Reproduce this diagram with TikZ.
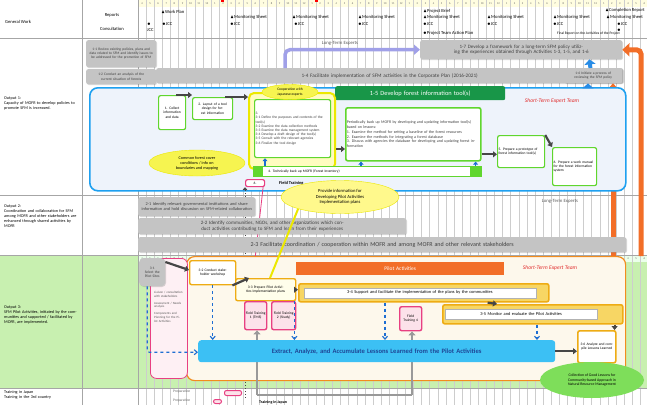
\documentclass[tikz,border=0pt]{standalone}
\usepackage{amssymb}
\usepackage{fontspec}
\setmainfont{Carlito}
\usetikzlibrary{positioning, arrows.meta, shapes, shadows, calc}

\definecolor{boxgray}{RGB}{196,196,196}
\definecolor{gridgray}{RGB}{205,205,205}
\definecolor{grnline}{RGB}{96,214,46}
\definecolor{grnhead}{RGB}{24,150,72}
\definecolor{ylwline}{RGB}{236,232,0}
\definecolor{ylwfill}{RGB}{246,244,80}
\definecolor{blueframe}{RGB}{30,160,240}
\definecolor{bluepale}{RGB}{238,243,251}
\definecolor{bluearr}{RGB}{30,110,210}
\definecolor{blueblk}{RGB}{40,140,230}
\definecolor{purparr}{RGB}{160,160,232}
\definecolor{orng}{RGB}{242,110,40}
\definecolor{orngframe}{RGB}{242,140,30}
\definecolor{cream}{RGB}{253,248,236}
\definecolor{goldline}{RGB}{238,172,20}
\definecolor{goldfill}{RGB}{247,214,100}
\definecolor{pinkline}{RGB}{232,64,130}
\definecolor{pinkfill}{RGB}{252,226,234}
\definecolor{cyanbox}{RGB}{60,192,244}
\definecolor{navytxt}{RGB}{30,70,150}
\definecolor{lightgreen}{RGB}{200,240,176}
\definecolor{lessongreen}{RGB}{126,222,90}
\definecolor{arrgray}{RGB}{70,70,70}
\definecolor{redtxt}{RGB}{225,45,45}

\begin{document}
\begin{tikzpicture}[x=1pt, y=-1pt,
  every node/.style={inner sep=1pt, align=center, font=\fontsize{3.6}{4.2}\selectfont},
  wh/.style 2 args={text width=#1, minimum height=#2},
  rowlbl/.style={anchor=north west, align=left, text width=74pt, font=\fontsize{4.2}{5}\selectfont},
  graybox/.style={rectangle, rounded corners=2pt, fill=boxgray, anchor=north west, text=black!75,
    drop shadow={opacity=0.3, shadow xshift=0.8pt, shadow yshift=-0.8pt}},
  gbox/.style={rectangle, rounded corners=2pt, draw=grnline, line width=1.2pt, fill=white, anchor=north west},
  goldbox/.style={rectangle, rounded corners=2pt, draw=goldline, line width=1.4pt, fill=white, anchor=north west},
  pinkbox/.style={rectangle, rounded corners=2pt, draw=pinkline, line width=1pt, fill=pinkfill, anchor=north west},
  bubble/.style={ellipse, fill=ylwfill, draw=ylwline, inner sep=0pt},
  mstone/.style={anchor=west, font=\fontsize{4.6}{5}\selectfont},
  darrow/.style={-{Triangle[length=4pt,width=6pt]}, line width=2.2pt, draw=arrgray},
  bluedash/.style={-{Straight Barb[length=3pt,width=5pt]}, dashed, line width=1.1pt, draw=bluearr},
  blockup/.style={-{Triangle[length=5pt,width=11pt]}, line width=4pt, draw=blueblk},
  orangearr/.style={-{Triangle[length=7pt,width=13pt]}, line width=5pt, draw=orng, rounded corners=4pt},
  grayarr/.style={-{Triangle[length=4pt,width=7pt]}, line width=2.2pt, draw=gray!80}
  ]
  \useasboundingbox (0,0) rectangle (647,405);
  \fill[white] (0,0) rectangle (647,405);

  % Background rows and grid
  \fill[lightgreen] (0,255) rectangle (647,388);
  \fill[yellow!12] (138,0) rectangle (647,7);
  \fill[green!8] (138,255) rectangle (647,262);
  \foreach \i in {0,...,62} {
    \draw[gridgray, line width=0.4pt] ({138+\i*8.1},0) -- ({138+\i*8.1},405);
    \pgfmathtruncatemacro\mon{mod(\i+3,12)+1}
    \node[font=\fontsize{2.8}{3}\selectfont, text=black!60] at ({142+\i*8.1},4) {\mon};
    \node[font=\fontsize{2.8}{3}\selectfont, text=black!60] at ({142+\i*8.1},258.5) {\mon};
  }
  \foreach \yy in {38,195,255,388}
    \draw[gray!70, line width=0.6pt] (0,\yy) -- (647,\yy);
  \draw[gray!70, line width=0.6pt] (82,0) -- (82,405);
  \draw[gray!70, line width=0.6pt] (138,0) -- (138,405);
  \fill[red] (221,0) rectangle (224,2);
  \fill[red] (315,0) rectangle (318,2);

  % Row labels
  \node[anchor=west, font=\fontsize{4.6}{5}\selectfont] (genlbl) at (4,22) {General Work};
  \node[font=\fontsize{4.6}{5}\selectfont] (reports) at (112,15) {Reports};
  \node[font=\fontsize{4.6}{5}\selectfont] (consult) at (112,29) {Consultation};
  \node[rowlbl] (out1lbl) at (3,96) {Output 1:\\Capacity of MOFR to develop policies to promote SFM is increased.};
  \node[rowlbl] (out2lbl) at (3,204) {Output 2:\\Coordination and collaboration for SFM among MOFR and other stakeholders are enhanced through shared activities by MOFR};
  \node[rowlbl] (out3lbl) at (3,305) {Output 3:\\SFM Pilot Activities, initiated by the communities and supported / facilitated by MOFR, are implemented.};
  \node[rowlbl] (trnlbl) at (3,389) {Training in Japan\\Training in the 3rd country};

  % Milestones
  \node[mstone] (wp) at (160,12) {$\blacktriangle$Work Plan};
  \foreach \xx in {229,291,357,422,486,552,605}
    \node[mstone] at (\xx,17) {$\blacktriangle$Monitoring Sheet};
  \node[mstone] (pb) at (422,11) {$\blacktriangle$Project Brief};
  \node[mstone] (cr) at (604,10) {$\blacktriangle$Completion Report};
  \node[mstone] (jcc0) at (146,24) {$\bullet$};
  \node[mstone] at (146,30) {JCC};
  \foreach \xx in {161,229,293,357,422,486,552,616}
    \node[mstone] at (\xx,24) {$\bullet$JCC};
  \node[mstone] (ptap) at (422,33) {$\bullet$Project Team Action Plan};
  \node[mstone] at (616,30) {$\bullet$};
  \node[mstone, font=\fontsize{3.6}{4}\selectfont] (fr) at (556,34) {Final Report on the Activities of the Project};

  % Output 1 -- policy boxes
  \node[graybox, wh={68pt}{27pt}] (a11) at (86,40) {1-1 Review existing policies, plans and data related to SFM and identify issues to be addressed for the promotion of SFM};
  \node[graybox, wh={68pt}{15pt}] (a12) at (86,69) {1-2 Conduct an analysis of the current situation of forests};
  \node[graybox, wh={465pt}{15pt}, font=\fontsize{5.2}{6}\selectfont] (a14) at (156,68) {1-4 Facilitate implementation of SFM activities in the Corporate Plan (2016-2021)};
  \node[graybox, wh={56pt}{15pt}] (a16) at (564,68) {1-6 Initiate a process of reviewing the SFM policy};
  \node[graybox, wh={200pt}{19pt}, font=\fontsize{5}{5.8}\selectfont] (a17) at (420,40) {1-7 Develop a framework for a long-term SFM policy utilizing the experiences obtained through Activities 1-3, 1-5, and 1-6};
  \draw[purparr, line width=3.5pt, rounded corners=5pt, -{Triangle[length=6pt,width=10pt]}] ([xshift=129pt]a14.north west) |- (a17.west);
  \node[font=\fontsize{4.8}{5}\selectfont, text=black!65] (lte1) at (340,43) {Long-Term Experts};
  \draw[blockup] ([xshift=-33pt]a14.north east) -- ([xshift=-33pt]a17.south east);

  % Orange feedback arrows
  \draw[orangearr] (613,256) -- (a16.south -| 613,0);
  \draw[orangearr] (641,256) -- (641,50) -- (a17.east);

  % Output 1 frame
  \node[draw=blueframe, line width=1.6pt, fill=bluepale, rounded corners=8pt, minimum width=536pt, minimum height=103pt, anchor=north west] (o1frame) at (89,87) {};
  \draw[blockup] ([xshift=499pt]o1frame.north west) -- (a16.south -| 588,0);
  \node[text=redtxt, font=\itshape\fontsize{5.6}{6}\selectfont] (ste1) at (552,101) {Short-Term Expert Team};
  \node[fill=grnhead, text=white, rounded corners=2pt, wh={168pt}{14pt}, font=\fontsize{6.4}{7}\selectfont, anchor=north west] (t15) at (335,86) {1-5 Develop forest information tool(s)};

  % Forest information tool steps
  \node[gbox, wh={25pt}{34pt}] (b1) at (158,95) {1. Collect information and data};
  \node[gbox, wh={38pt}{22pt}] (b2) at (192,97) {2. Layout of a tool design for forest information};
  \node[draw=ylwline, line width=2pt, fill=yellow!25, rounded corners=5pt, minimum width=86pt, minimum height=76pt, anchor=north west] (yfr) at (248,92) {};
  \node[gbox, wh={74pt}{58pt}, align=left, text=black!75] (b3) at (254,99) {3.\\3-1 Define the purposes and contents of the tool(s)\\3-2 Examine the data collection methods\\3-3 Examine the data management system\\3-4 Develop a draft design of the tool(s)\\3-5 Consult with the relevant agencies\\3-6 Finalize the tool design};
  \node[bubble, minimum width=56pt, minimum height=15pt] (coop) at (290,92) {Cooperation with\\Japanese experts};
  \node[gbox, wh={226pt}{10pt}, align=left, line width=0.8pt] (b4) at (253,166) {\hspace{14pt}4. Technically back up MOFR (Forest Inventory)};
  \fill[grnline] (b4.north west) rectangle ([xshift=10pt]b4.south west);
  \fill[grnline] ([xshift=-12pt]b4.north east) rectangle (b4.south east);
  \node[gbox, wh={133pt}{53pt}, align=left, line width=1.6pt, text=black!75, font=\fontsize{4}{4.8}\selectfont] (b5) at (345,107) {Periodically back up MOFR by developing and updating information tool(s) based on lessons:\\1. Examine the method for setting a baseline of the forest resources\\2. Examine the methods for integrating a forest database\\3. Discuss with agencies the database for developing and updating forest information};
  \node[gbox, wh={45pt}{32pt}, align=left] (b6) at (497,135) {5. Prepare a prototype of forest information tool(s)};
  \node[gbox, wh={42pt}{38pt}, align=left] (b7) at (552,147) {6. Prepare a work manual for the forest information system};
  \draw[darrow] ([xshift=-10pt]b1.north east) -- (b1.north east -| b2.west);
  \draw[darrow] ([xshift=-8pt]b2.north east) -- (b2.north east -| yfr.west);
  \draw[darrow] ([yshift=-18pt]yfr.east) -- ([yshift=-18pt]yfr.east -| b5.west);
  \draw[darrow] ([yshift=-20pt]b5.east) -- ([yshift=-20pt]b5.east -| b6.west);
  \draw[darrow] (b6.north east) -- (b7.north west);
  \draw[bluedash, solid, -{Triangle[length=3pt,width=5pt]}] ([xshift=12pt]b4.north west) -- ([xshift=11pt]b3.south west);
  \draw[bluedash, solid, -{Triangle[length=3pt,width=5pt]}] ([xshift=16pt]b5.south west |- b4.north) -- ([xshift=16pt]b5.south west);
  \draw[bluedash, solid, -{Triangle[length=3pt,width=5pt]}] ([xshift=-6pt]b5.south east |- b4.north) -- ([xshift=-6pt]b5.south east);
  \node[bubble, minimum width=96pt, minimum height=26pt, font=\fontsize{4.2}{5}\selectfont] (common) at (197,163) {Common forest cover\\conditions / info on\\boundaries and mapping};

  % Field training link
  \node[pinkbox, fill=white, line width=1.2pt, wh={17pt}{7pt}] (p6) at (245,179) {6.};
  \node[anchor=west, font=\bfseries\fontsize{4.4}{5}\selectfont] (ftlbl) at (278,183) {Field Training};
  \draw[pinkline, line width=0.8pt] ([xshift=8pt]p6.south) -- (253,277);
  \coordinate (trn) at (245,399);
  \draw[arrgray, line width=1pt, dotted, {Triangle[length=3pt,width=5pt]}-] (p6.south west -| 245,0) -- (trn);
  \node[bubble, fill=yellow!45, minimum width=118pt, minimum height=33pt, font=\fontsize{4.6}{5.4}\selectfont] (prov) at (340,197) {Provide information for\\Developing Pilot Activities\\Implementation plans};

  % Output 2
  \node[graybox, wh={115pt}{19pt}, font=\fontsize{4.3}{5}\selectfont] (a21) at (138,197) {2-1 Identify relevant governmental institutions and share information and hold discussion on SFM-related collaboration};
  \node[graybox, wh={266pt}{16pt}, font=\fontsize{5}{5.8}\selectfont] (a22) at (138,218) {2-2 Identify communities, NGOs, and other organizations which conduct activities contributing to SFM and learn from their experiences};
  \node[graybox, wh={486pt}{15pt}, font=\fontsize{6}{7}\selectfont] (a23) at (138,237) {2-3 Facilitate coordination / cooperation within MOFR and among MOFR and other relevant stakeholders};
  \node[font=\fontsize{4.8}{5}\selectfont, text=black!65] (lte2) at (560,201) {Long-Term Experts};

  % Output 3 frames
  \node[draw=orngframe, line width=1.2pt, fill=cream, rounded corners=8pt, minimum width=439pt, minimum height=124pt, anchor=north west] (o3frame) at (186,256) {};
  \node[draw=pinkline, line width=0.8pt, fill=pinkfill!50, rounded corners=6pt, minimum width=37pt, minimum height=120pt, anchor=north west] (pfr) at (150,258) {};
  \node[anchor=north west, align=left, text width=30pt, font=\fontsize{3.2}{3.8}\selectfont, text=black!65] (liaise) at (153,290) {Liaison / consultation with stakeholders\\[3pt]Assessment / Needs analysis\\[3pt]Components and Planning for the Pilot Activities};
  \draw[ylwline, line width=2pt] (prov.south west) -- (270,278);

  % Pilot activity steps
  \node[graybox, wh={24pt}{28pt}, rounded corners=4pt] (c31) at (139,258) {3-1\\Select the Pilot Sites};
  \node[goldbox, wh={44pt}{24pt}] (c32) at (189,260) {3-2 Conduct stakeholder workshop};
  \node[goldbox, fill=yellow!8, wh={58pt}{22pt}] (c33) at (235,278) {3-3 Prepare Pilot Activities Implementation plans};
  \node[fill=orng, text=white, wh={206pt}{13pt}, font=\fontsize{5.4}{6}\selectfont, anchor=north west] (pilot) at (296,262) {Pilot Activities};
  \node[text=redtxt, font=\itshape\fontsize{5.6}{6}\selectfont] (ste2) at (550,268) {Short-Term Expert Team};
  \node[goldbox, fill=goldfill, wh={248pt}{18pt}, line width=1.6pt] (c34) at (298,283) {};
  \node[fill=white, draw=gray!60, line width=0.4pt, wh={230pt}{10pt}, font=\fontsize{4.4}{5}\selectfont] (c34t) at ($(c34.center)+(-4,0)$) {3-4 Support and facilitate the implementation of the plans by the communities};
  \node[goldbox, fill=goldfill, wh={178pt}{19pt}, line width=1.6pt] (c35) at (442,304) {};
  \node[fill=white, draw=gray!60, line width=0.4pt, wh={150pt}{10pt}, font=\fontsize{4.4}{5}\selectfont] (c35t) at ($(c35.west)+(79,0)$) {3-5 Monitor and evaluate the Pilot Activities};
  \node[pinkbox, line width=1.4pt, wh={20pt}{28pt}] (ft1) at (244,301) {Field Training 1 (TMS)};
  \node[pinkbox, line width=1.4pt, wh={22pt}{28pt}] (ft2) at (271,301) {Field Training 2 (Study)};
  \node[pinkbox, line width=1.4pt, wh={20pt}{24pt}] (ft4) at (399,306) {Field Training 4};

  % Lessons learned
  \draw[gray!80, line width=2.2pt] (412,395) -- (257,395);
  \draw[grayarr] (257,395) -- (ft1.south -| 257,0);
  \draw[grayarr] (412,395) -- (ft4.south -| 412,0);
  \node[fill=cyanbox, text=navytxt, rounded corners=3pt, wh={355pt}{22pt}, font=\bfseries\fontsize{6.6}{7}\selectfont, anchor=north west] (ext) at (198,340) {Extract, Analyze, and Accumulate Lessons Learned from the Pilot Activities};
  \node[goldbox, wh={36pt}{32pt}, line width=1.6pt] (c36) at (577,330) {3-6 Analyze and compile Lessons Learned};
  \node[ellipse, fill=lessongreen, minimum width=104pt, minimum height=36pt, inner sep=0pt, font=\fontsize{3.8}{4.5}\selectfont] (lessons) at (592,380) {Collection of Good Lessons for\\Community-based Approach in\\Natural Resource Management};

  % Connectors within Output 3
  \draw[darrow] ([yshift=-4pt]c31.north east) -- ([yshift=-10pt]c32.north west);
  \draw[darrow] ([xshift=-4pt]c32.south east) -- ([xshift=14pt]c33.north west);
  \draw[darrow] (c33.east) -- (c33.east -| c34.west);
  \draw[darrow] ([xshift=-62pt]c34.south east) -- ([xshift=55pt]c35.north west);
  \draw[darrow] ([xshift=-9pt]c35.south east) -- ([xshift=-9pt]c35.south east |- c36.north);
  \draw[darrow] (ext.east) -- (ext.east -| c36.west);
  \draw[bluedash] (c32.south) -- (c32.south |- ext.north);
  \draw[bluedash] ([xshift=-2pt]c33.south east) -- ([xshift=-2pt]c33.south east |- ext.north);
  \draw[bluedash] ([xshift=87pt]c34.south west) -- ([xshift=87pt]c34.south west |- ext.north);
  \draw[bluedash] ([xshift=95pt]c35.south west) -- ([xshift=95pt]c35.south west |- ext.north);
  \draw[bluedash, rounded corners=2pt] ([xshift=-5pt]c31.south) |- ([yshift=-1pt]ext.west);

  % Training row
  \node[anchor=west, font=\fontsize{3.6}{4}\selectfont, text=black!60] (prep1) at (172,392) {Preparation};
  \node[anchor=west, font=\fontsize{3.6}{4}\selectfont, text=black!60] (prep2) at (172,401) {Preparation};
  \node[pinkbox, wh={15pt}{5pt}] (pj1) at (224,390) {};
  \node[pinkbox, wh={6pt}{4pt}] (pj2) at (213,399) {};
  \node[anchor=west, font=\bfseries\fontsize{4}{4.5}\selectfont] (japan) at (258,402) {Training in Japan};
\end{tikzpicture}
\end{document}
